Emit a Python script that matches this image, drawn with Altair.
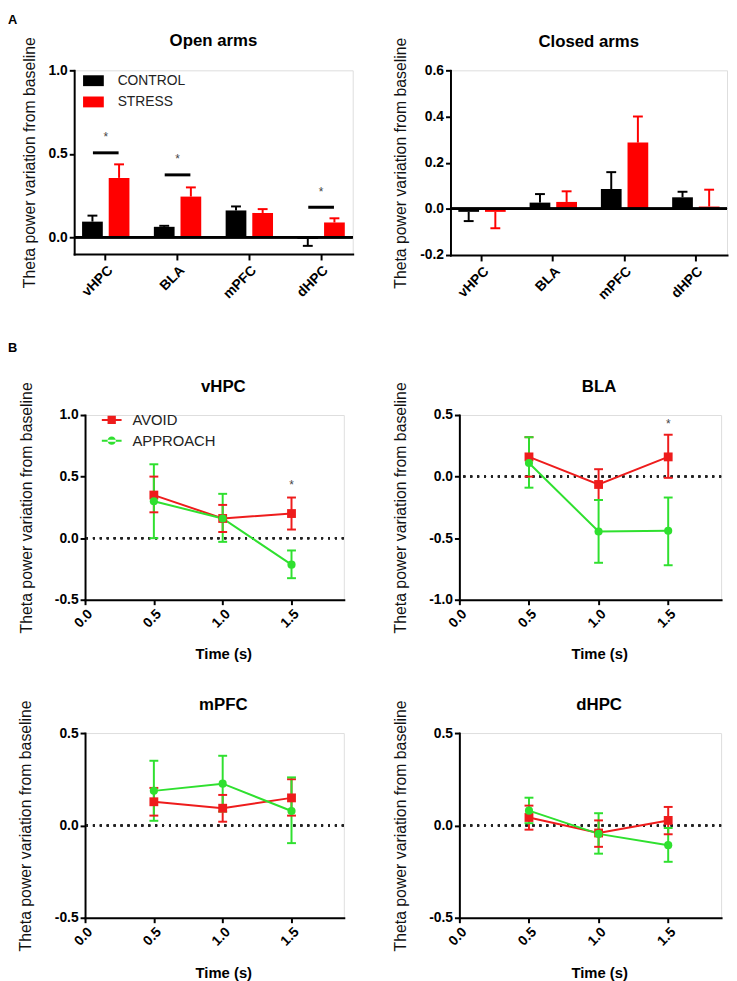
import altair as alt
import pandas as pd

FONT = "Liberation Sans"
RED_BAR = "#ff0000"
RED = "#ee1c1c"
GREEN = "#2fe02f"

# ---------------- Panel A data ----------------
regions = ["vHPC", "BLA", "mPFC", "dHPC"]
bar_groups = ["CONTROL", "STRESS"]

open_control_mean = [0.094, 0.063, 0.161, -0.010]
open_control_sem = [0.036, 0.006, 0.024, 0.041]
open_stress_mean = [0.356, 0.244, 0.146, 0.089]
open_stress_sem = [0.081, 0.055, 0.023, 0.025]

closed_control_mean = [-0.013, 0.027, 0.086, 0.050]
closed_control_sem = [0.040, 0.037, 0.073, 0.024]
closed_stress_mean = [-0.013, 0.030, 0.287, 0.010]
closed_stress_sem = [0.071, 0.046, 0.113, 0.073]

sig_regions = ["vHPC", "BLA", "dHPC"]
sig_line_y = [0.506, 0.374, 0.180]
sig_star_y = [0.600, 0.470, 0.270]

# ---------------- Panel B data ----------------
times = [0.5, 1.0, 1.5]
series = ["AVOID", "APPROACH"]

vhpc_avoid = [0.35, 0.16, 0.20]
vhpc_avoid_lo = [0.21, 0.05, 0.07]
vhpc_avoid_hi = [0.50, 0.27, 0.33]
vhpc_appr = [0.30, 0.16, -0.215]
vhpc_appr_lo = [0.00, -0.03, -0.325]
vhpc_appr_hi = [0.60, 0.36, -0.10]

bla_avoid = [0.16, -0.064, 0.16]
bla_avoid_lo = [0.00, -0.19, -0.01]
bla_avoid_hi = [0.32, 0.06, 0.34]
bla_appr = [0.11, -0.446, -0.44]
bla_appr_lo = [-0.09, -0.70, -0.72]
bla_appr_hi = [0.32, -0.19, -0.17]

mpfc_avoid = [0.128, 0.093, 0.149]
mpfc_avoid_lo = [0.053, 0.020, 0.053]
mpfc_avoid_hi = [0.203, 0.165, 0.250]
mpfc_appr = [0.187, 0.226, 0.078]
mpfc_appr_lo = [0.025, 0.075, -0.096]
mpfc_appr_hi = [0.350, 0.377, 0.260]

dhpc_avoid = [0.043, -0.041, 0.027]
dhpc_avoid_lo = [-0.023, -0.116, -0.048]
dhpc_avoid_hi = [0.107, 0.027, 0.100]
dhpc_appr = [0.080, -0.046, -0.107]
dhpc_appr_lo = [0.012, -0.153, -0.197]
dhpc_appr_hi = [0.150, 0.066, -0.014]

vhpc_star = [1.5, 0.43]
bla_star = [1.5, 0.43]

YTITLE = "Theta power variation from baseline"
LBL = "replace(format(datum.value, '.1f'), '\u2212', '-')"

PATH_RECT = "M-1,-0.524H1V0.524H-1Z"
PATH_SQ = "M-1,-0.1H1V0.1H-1Z M-0.42,-0.42H0.42V0.42H-0.42Z"
PATH_CI = "M-1,-0.1H1V0.1H-1Z M-0.42,0A0.42,0.42 0 1,0 0.42,0A0.42,0.42 0 1,0 -0.42,0Z"


def y_axis(values, H, tx):
    return alt.Axis(values=values, labelExpr=LBL, grid=False,
                    domainColor="black", domainWidth=2, domainCap="square",
                    tickColor="black", tickWidth=2, tickSize=5,
                    labelFont=FONT, labelFontSize=14, labelFontWeight="bold",
                    labelColor="black", labelPadding=2, labelFlush=False, labelOverlap=False,
                    title=YTITLE, titleFont=FONT, titleFontSize=16, titleFontWeight="normal",
                    titleColor="#111111", titleAngle=270, titleAlign="center",
                    titleBaseline="bottom", titleX=tx, titleY=H / 2)


def panel_title(text, offset, dx=0, dy=56):
    return alt.TitleParams(text=text, font=FONT, fontSize=17, fontWeight="bold", color="black",
                           anchor="middle", frame="group", baseline="alphabetic",
                           offset=offset, dx=dx, dy=dy)


x_axis_bar = alt.Axis(title=None, labelAngle=315, labelFont=FONT, labelFontSize=14,
                      labelFontWeight="bold", labelColor="black", tickColor="black",
                      tickWidth=2, tickSize=6, domainColor="black", domainWidth=2,
                      domainCap="square", labelPadding=3, grid=False)


def bar_panel(title, cm, cs, sm, ss, ydom, yvals, W, H, tx, legend=None, sig=False):
    rows = []
    for g, means, sems in (("CONTROL", cm, cs), ("STRESS", sm, ss)):
        for r, m, e in zip(regions, means, sems):
            rows.append({"region": r, "group": g, "mean": m,
                         "end": m + e if m >= 0 else m - e})
    df = pd.DataFrame(rows)
    xsc = alt.Scale(domain=regions, paddingInner=0.3, paddingOuter=0.09)
    X = alt.X("region:N", scale=xsc, axis=x_axis_bar)
    XO = alt.XOffset("group:N", scale=alt.Scale(domain=bar_groups, paddingInner=0.222,
                                                 paddingOuter=0.054))
    ysc = alt.Scale(domain=ydom, nice=False, zero=False)
    yax = y_axis(yvals, H, tx)

    def Y(f):
        return alt.Y(f, scale=ysc, axis=yax)

    def col(leg):
        return alt.Color("group:N", scale=alt.Scale(domain=bar_groups, range=["#000000", RED_BAR]),
                         legend=leg)

    base = alt.Chart(df)
    bars = base.mark_bar().encode(x=X, xOffset=XO, y=Y("mean:Q"), color=col(legend))
    errs = base.mark_rule(strokeWidth=2).encode(x=X, xOffset=XO, y=Y("mean:Q"), y2="end:Q",
                                                color=col(None))
    caps = base.mark_tick(orient="horizontal", thickness=2, size=10, opacity=1).encode(
        x=X, xOffset=XO, y=Y("end:Q"), color=col(None))
    zero = base.mark_rule(strokeWidth=2, color="black").encode(y=alt.datum(0))
    layers = [bars, errs, caps, zero]
    if sig:
        sdf = pd.DataFrame({"region": sig_regions, "line_y": sig_line_y, "star_y": sig_star_y})
        layers.append(alt.Chart(sdf).mark_tick(orient="horizontal", thickness=3, size=26,
                                               color="black", opacity=1).encode(
            x=X, y=Y("line_y:Q")))
        layers.append(alt.Chart(sdf).mark_text(text="*", fontSize=12, color="#444444",
                                               baseline="middle").encode(x=X, y=Y("star_y:Q")))
    return alt.layer(*layers).properties(width=W, height=H,
                                         title=panel_title(title, 25, 0, 52))


def line_panel(title, a, alo, ahi, p, plo, phi, ydom, yvals, W, H, tx, legend=None, star=None):
    rows = []
    for s, m, lo, hi in (("AVOID", a, alo, ahi), ("APPROACH", p, plo, phi)):
        for t, mv, lv, hv in zip(times, m, lo, hi):
            rows.append({"time": t, "series": s, "mean": mv, "lo": lv, "hi": hv})
    df = pd.DataFrame(rows)
    xax = alt.Axis(values=[0, 0.5, 1.0, 1.5], labelExpr=LBL, labelAngle=315, labelFont=FONT,
                   labelFontSize=14, labelFontWeight="bold", labelColor="black",
                   labelFlush=False, labelOverlap=False,
                   tickColor="black", tickWidth=2, tickSize=5, domainColor="black",
                   domainWidth=2, domainCap="square", labelPadding=2, grid=False,
                   title="Time (s)", titleFont=FONT, titleFontSize=15, titleFontWeight="bold",
                   titleColor="black", titleX=W / 2 + 9, titleY=60, titleAlign="center",
                   titleBaseline="alphabetic")
    xsc = alt.Scale(domain=[0, 1.88], nice=False, zero=False)
    ysc = alt.Scale(domain=ydom, nice=False, zero=False)
    yax = y_axis(yvals, H, tx)

    def X(f):
        return alt.X(f, scale=xsc, axis=xax)

    def Y(f):
        return alt.Y(f, scale=ysc, axis=yax)

    cscale = alt.Scale(domain=series, range=[RED, GREEN])

    def col(leg):
        return alt.Color("series:N", scale=cscale, legend=leg)

    base = alt.Chart(df)
    layers = []
    if legend is not None:
        # draws nothing: only carries the legend (first layer so its legend settings win)
        layers.append(base.transform_filter("false").mark_point(
            filled=True, opacity=1, size=400).encode(
            x=X("time:Q"), y=Y("mean:Q"), color=col(legend),
            shape=alt.Shape("series:N", scale=alt.Scale(domain=series, range=[PATH_SQ, PATH_CI]),
                            legend=legend)))
    zero = base.mark_rule(strokeDash=[2, 5], strokeWidth=2, color="#222222").encode(y=alt.datum(0))
    errs = base.mark_rule(strokeWidth=2).encode(x=X("time:Q"), y=Y("lo:Q"), y2="hi:Q",
                                                color=col(None))
    cap_lo = base.mark_tick(orient="horizontal", thickness=2, size=9, opacity=1).encode(
        x=X("time:Q"), y=Y("lo:Q"), color=col(None))
    cap_hi = base.mark_tick(orient="horizontal", thickness=2, size=9, opacity=1).encode(
        x=X("time:Q"), y=Y("hi:Q"), color=col(None))
    line = base.mark_line(strokeWidth=2).encode(x=X("time:Q"), y=Y("mean:Q"), color=col(None))
    sq = base.transform_filter("datum.series == 'AVOID'").mark_square(
        size=80, opacity=1).encode(x=X("time:Q"), y=Y("mean:Q"), color=col(None))
    ci = base.transform_filter("datum.series == 'APPROACH'").mark_circle(
        size=68, opacity=1).encode(x=X("time:Q"), y=Y("mean:Q"), color=col(None))
    layers += [zero, errs, cap_lo, cap_hi, line, sq, ci]
    if star is not None:
        sdf = pd.DataFrame({"time": [star[0]], "y": [star[1]]})
        layers.append(alt.Chart(sdf).mark_text(text="*", fontSize=12, color="#444444",
                                               baseline="middle").encode(
            x=X("time:Q"), y=Y("y:Q")))
    return alt.layer(*layers).properties(width=W, height=H,
                                         title=panel_title(title, 23, 9, 50))


def ind(c):
    return c.resolve_scale(color="independent", shape="independent").resolve_legend(
        color="independent", shape="independent")


bar_legend = alt.Legend(orient="none", legendX=9, legendY=0, title=None, symbolType=PATH_RECT,
                        symbolSize=441, symbolStrokeWidth=0, labelFont=FONT, labelFontSize=14,
                        labelColor="#222222", labelOffset=14, rowPadding=3.5, padding=0)
line_legend = alt.Legend(orient="none", legendX=17, legendY=-5, title=None, symbolSize=400,
                         symbolStrokeWidth=0, labelFont=FONT, labelFontSize=15,
                         labelColor="#222222", labelOffset=11, rowPadding=3, padding=0)

open_chart = bar_panel("Open arms", open_control_mean, open_control_sem, open_stress_mean,
                       open_stress_sem, [-0.1, 1.0], [0.0, 0.5, 1.0], 282, 186, -37,
                       legend=bar_legend, sig=True)
closed_chart = bar_panel("Closed arms", closed_control_mean, closed_control_sem,
                         closed_stress_mean, closed_stress_sem, [-0.2, 0.6],
                         [-0.2, 0.0, 0.2, 0.4, 0.6], 280, 187, -43)

vhpc = line_panel("vHPC", vhpc_avoid, vhpc_avoid_lo, vhpc_avoid_hi, vhpc_appr, vhpc_appr_lo,
                  vhpc_appr_hi, [-0.5, 1.0], [-0.5, 0.0, 0.5, 1.0], 262, 187, -51,
                  legend=line_legend, star=vhpc_star)
bla = line_panel("BLA", bla_avoid, bla_avoid_lo, bla_avoid_hi, bla_appr, bla_appr_lo,
                 bla_appr_hi, [-1.0, 0.5], [-1.0, -0.5, 0.0, 0.5], 265, 187, -52, star=bla_star)
mpfc = line_panel("mPFC", mpfc_avoid, mpfc_avoid_lo, mpfc_avoid_hi, mpfc_appr, mpfc_appr_lo,
                  mpfc_appr_hi, [-0.5, 0.5], [-0.5, 0.0, 0.5], 262, 187, -52)
dhpc = line_panel("dHPC", dhpc_avoid, dhpc_avoid_lo, dhpc_avoid_hi, dhpc_appr, dhpc_appr_lo,
                  dhpc_appr_hi, [-0.5, 0.5], [-0.5, 0.0, 0.5], 265, 187, -52)

label_style = dict(font=FONT, fontSize=13, fontWeight="bold", color="black", anchor="start",
                   frame="group", baseline="alphabetic")

# nested flush groups have no size of their own, so spacing here is top-to-top distance
row1 = ind(alt.hconcat(open_chart, closed_chart, spacing=99, bounds="flush",
                       title=alt.TitleParams(text="A", offset=53, dx=-67, dy=58, **label_style)))
row2 = ind(alt.hconcat(vhpc, bla, spacing=117, bounds="flush"))
row3 = ind(alt.hconcat(mpfc, dhpc, spacing=117, bounds="flush"))
rows23 = ind(alt.vconcat(row2, row3, spacing=322, bounds="flush",
                         title=alt.TitleParams(text="B", offset=63, dx=-78, dy=50, **label_style)))
spacer = alt.Chart(pd.DataFrame({"v": [0]})).mark_point(opacity=0, size=1).properties(
    width=1, height=1)
block2 = ind(alt.hconcat(spacer, rows23, spacing=10, bounds="flush"))

chart = ind(alt.vconcat(row1, block2, spacing=349, bounds="flush", padding=0)).configure_view(
    strokeWidth=0).configure(font=FONT)

chart.save("out.html", embed_options={"renderer": "svg", "actions": False})
